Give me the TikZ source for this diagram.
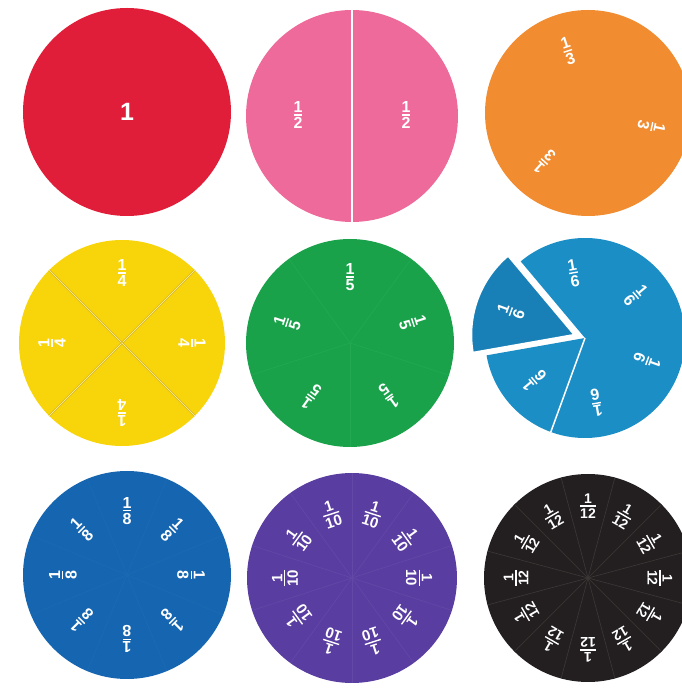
\documentclass[tikz,border=0pt]{standalone}
\usepackage{fontspec}
\setmainfont{Liberation Sans}
\usetikzlibrary{calc}
\newcommand\fr[2]{\setbox0\hbox{#2}\vbox{\offinterlineskip\halign{\hfil##\hfil\cr #1\cr\noalign{\kern1.8pt}\rule{\wd0}{1.4pt}\cr\noalign{\kern2pt}#2\cr}}}
\definecolor{cred}{HTML}{E01E3A}
\definecolor{cpink}{HTML}{EE6A9A}
\definecolor{corange}{HTML}{F28C30}
\definecolor{cyellow}{HTML}{F8D40A}
\definecolor{cyelline}{HTML}{CDAE10}
\definecolor{cyellite}{HTML}{F7E890}
\definecolor{cgreen}{HTML}{1AA24B}
\definecolor{cgreenline}{HTML}{22A952}
\definecolor{cblue}{HTML}{1C8EC6}
\definecolor{cbluedark}{HTML}{1880B6}
\definecolor{cnavy}{HTML}{1565B0}
\definecolor{cnavyline}{HTML}{1A6AB4}
\definecolor{cpurple}{HTML}{5A3DA0}
\definecolor{cpurpleline}{HTML}{6448A8}
\definecolor{cblack}{HTML}{231F20}
\definecolor{cblackline}{HTML}{3C3838}
\begin{document}
\begin{tikzpicture}[x=1pt,y=1pt,
  lbl/.style={text=white, inner sep=0pt, font=\fontsize{16}{16}\selectfont\bfseries},
  lblmid/.style={text=white, inner sep=0pt, font=\fontsize{15}{15}\selectfont\bfseries},
  lblsmall/.style={text=white, inner sep=0pt, font=\fontsize{14}{14}\selectfont\bfseries},
  sectorline/.style={line width=0.6pt}]
\useasboundingbox (0,0) rectangle (681,688);
\fill[white] (0,0) rectangle (681,688);
% centres
\coordinate (c1) at (127,576);
\coordinate (c2) at (352,572);
\coordinate (c3) at (588,575);
\coordinate (c4) at (122,345);
\coordinate (c5) at (350,345);
\coordinate (c6) at (585,350);
\coordinate (c7) at (127,113);
\coordinate (c8) at (352,110);
\coordinate (c9) at (588,110);
% 1 red
\fill[cred] (c1) circle (104);
\node[text=white, inner sep=0pt, font=\fontsize{25}{25}\selectfont\bfseries] (n1) at (c1) {1};
% 1/2 pink
\fill[cpink] (c2) circle (106);
\draw[white, line width=1.6pt] ($(c2)+(0,106)$) -- ($(c2)+(0,-106)$);
\node[lbl] (n2a) at ($(c2)+(-54,1)$) {\fr{1}{2}};
\node[lbl] (n2b) at ($(c2)+(54,1)$) {\fr{1}{2}};
% 1/3 orange
\fill[corange] (c3) circle (103);
\foreach \a [count=\i] in {108,-12,228}
  \node[lbl, rotate=\a-90] (n3-\i) at ($(c3)+(\a:65)$) {\fr{1}{3}};
% 1/4 yellow
\fill[cyellow] (c4) circle (103);
\foreach \a in {45,135,225,315} {
  \draw[cyelline, line width=2pt] (c4) -- ++(\a:103);
  \draw[cyellite, line width=0.9pt] (c4) -- ++(\a:103);
}
\foreach \a [count=\i] in {90,0,270,180}
  \node[lbl, rotate=\a-90] (n4-\i) at ($(c4)+(\a:70)$) {\fr{1}{4}};
% 1/5 green
\fill[cgreen] (c5) circle (104);
\foreach \a in {54,126,198,270,342}
  \draw[cgreenline, sectorline] (c5) -- ++(\a:104);
\foreach \a [count=\i] in {90,18,-54,-126,162}
  \node[lbl, rotate=\a-90] (n5-\i) at ($(c5)+(\a:66)$) {\fr{1}{5}};
% 1/6 blue
\fill[cblue] (c6) -- ++(190:100) arc[start angle=190, end angle=490, radius=100] -- cycle;
\draw[white, line width=1.5pt] (c6) -- ++(250:100);
\coordinate (c6p) at ($(c6)+(-10,3)$);
\fill[cbluedark, draw=white, line width=2.5pt, line join=miter]
  (c6p) -- ++(130:104) arc[start angle=130, end angle=190, radius=104] -- cycle;
\foreach \a [count=\i] in {100,40,340,280,220}
  \node[lbl, rotate=\a-90] (n6-\i) at ($(c6)+(\a:66)$) {\fr{1}{6}};
\node[lbl, rotate=70] (n6-6) at ($(c6p)+(160:68)$) {\fr{1}{6}};
% 1/8 navy
\fill[cnavy] (c7) circle (104);
\foreach \k in {0,...,7}
  \draw[cnavyline, sectorline] (c7) -- ++(22.5+45*\k:104);
\foreach \a [count=\i] in {90,45,0,-45,-90,-135,180,135}
  \node[lbl, rotate=\a-90] (n7-\i) at ($(c7)+(\a:64)$) {\fr{1}{8}};
% 1/10 purple
\fill[cpurple] (c8) circle (105);
\foreach \k in {0,...,9}
  \draw[cpurpleline, sectorline] (c8) -- ++(18+36*\k:105);
\foreach \k in {0,...,9}
  \node[lblmid, rotate=36*\k-90] (n8-\k) at ($(c8)+(36*\k:67)$) {\fr{1}{10}};
% 1/12 black
\fill[cblack] (c9) circle (104);
\foreach \k in {0,...,11}
  \draw[cblackline, sectorline] (c9) -- ++(15+30*\k:104);
\foreach \k in {0,...,11}
  \node[lblsmall, rotate=30*\k-90] (n9-\k) at ($(c9)+(30*\k:72)$) {\fr{1}{12}};
\end{tikzpicture}
\end{document}
